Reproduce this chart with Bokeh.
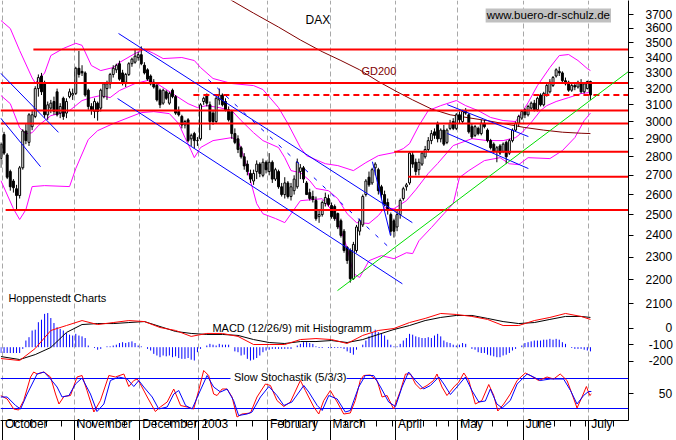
import math
from bokeh.plotting import figure
from bokeh.models import Range1d, LinearScale, FixedTicker, Label, BasicTickFormatter, ColumnDataSource
from bokeh.embed import file_html
from bokeh.resources import INLINE

FONT = "Liberation Sans"

# ---------------- data (x = trading-day index, -1 = 30 Sep 2002, 188 = 1 Jul 2003) ----------------
days = list(range(-1, 189))
opens = [2790,2925,2810,2720,2670,2630,2595,2740,2945,2880,2970,3030,3200,3280,3230,3040,3080,3120,3180,3050,3140,3050,3150,3160,
         3170,3330,3310,3300,3190,3090,3060,3110,3080,3150,3200,3230,3290,3320,3360,3300,3240,3290,3360,3370,3400,
         3420,3350,3320,3280,3240,3220,3190,3110,3180,3110,3190,3150,3060,3030,2980,3010,2900,2930,2890,
         2900,3120,3160,3100,3050,3000,3130,3160,3120,3070,3060,2930,2900,2850,2800,2760,2710,2670,2720,2760,2700,2770,
         2720,2770,2680,2720,2640,2600,2660,2590,2620,2640,2720,2740,2660,2610,2590,2570,2490,2500,2555,2580,
         2545,2540,2505,2470,2420,2345,2330,2205,2330,2420,2450,2600,2690,2660,2740,2730,2640,2600,2560,2500,2470,
         2440,2500,2580,2640,2660,2810,2770,2730,2760,2800,2840,2890,2940,2990,2900,2950,2880,2960,3000,2960,
         3040,3000,3060,3040,2970,2920,2960,2930,2990,2950,2890,2870,2830,2860,2830,2880,2820,2890,2950,2990,3020,
         3070,3040,3080,3110,3070,3160,3100,3160,3180,3220,3280,3310,3300,3250,3240,3190,3220,3210,3230,3180,3200,
         3245]
highs = [2880,2940,2820,2730,2680,2650,2750,2955,2985,3050,3070,3215,3290,3300,3250,3120,3130,3150,3200,3110,3150,3140,3200,3200,
         3340,3445,3350,3310,3200,3110,3140,3120,3200,3240,3250,3300,3350,3360,3380,3320,3300,3370,3400,3460,3440,
         3476,3370,3330,3290,3260,3230,3200,3200,3190,3180,3200,3160,3090,3040,3010,3020,2930,2940,2910,
         3110,3150,3170,3120,3070,3150,3200,3170,3140,3090,3070,2960,2920,2860,2820,2780,2730,2730,2780,2770,2790,2780,
         2820,2780,2740,2730,2660,2690,2670,2660,2700,2790,2760,2750,2670,2630,2620,2590,2520,2570,2610,2600,
         2560,2550,2510,2480,2430,2350,2340,2370,2450,2480,2600,2680,2720,2740,2770,2740,2650,2620,2580,2510,2480,
         2520,2580,2640,2660,2830,2830,2790,2790,2830,2860,2910,2950,2960,3000,2960,2980,2960,3010,3020,3050,
         3060,3070,3080,3050,2990,2980,2970,3010,3010,2960,2900,2880,2860,2870,2880,2890,2900,2960,3000,3040,3070,
         3080,3100,3120,3130,3150,3170,3180,3230,3260,3280,3330,3340,3310,3270,3250,3230,3240,3250,3260,3240,3250,
         3250]
lows = [2740,2810,2680,2620,2610,2525,2580,2730,2870,2860,2950,3020,3150,3160,3020,3010,3050,3040,3030,3020,3010,3020,3140,3130,
        3160,3270,3280,3150,3070,3040,3020,3005,3060,3140,3130,3200,3270,3300,3250,3220,3210,3280,3340,3360,3380,
        3350,3290,3250,3220,3200,3120,3080,3100,3130,3100,3140,3040,3030,2960,2960,2880,2860,2845,2860,
        2890,3100,3090,2950,2980,2990,3100,3090,3060,3000,2900,2870,2820,2790,2730,2700,2660,2650,2680,2690,2690,2710,
        2700,2660,2670,2630,2590,2580,2580,2570,2600,2630,2680,2660,2600,2570,2560,2470,2460,2490,2540,2540,
        2480,2470,2430,2390,2320,2270,2188,2200,2320,2400,2440,2590,2640,2650,2700,2600,2580,2540,2500,2400,2390,
        2420,2480,2570,2620,2650,2740,2700,2700,2750,2790,2830,2870,2900,2880,2880,2860,2870,2950,2950,2950,
        2990,2990,3040,2930,2900,2910,2920,2920,2960,2880,2840,2820,2770,2810,2820,2760,2810,2880,2940,2970,3010,
        3020,3030,3070,3060,3060,3090,3090,3150,3170,3210,3270,3280,3230,3220,3180,3180,3190,3200,3170,3170,3195,
        3130]
closes = [2870,2820,2690,2640,2635,2595,2740,2945,2890,3040,3040,3200,3270,3180,3040,3100,3110,3060,3040,3090,3030,3120,3180,3170,
          3330,3290,3300,3160,3090,3070,3120,3060,3190,3230,3230,3290,3330,3350,3260,3240,3290,3360,3390,3410,3420,
          3360,3300,3260,3230,3210,3130,3100,3190,3140,3170,3150,3050,3040,2980,3000,2890,2920,2890,2890,
          3100,3140,3110,3000,3000,3140,3160,3100,3070,3010,2930,2880,2840,2800,2750,2720,2680,2710,2760,2710,2770,2730,
          2770,2680,2730,2640,2600,2660,2590,2640,2680,2770,2740,2680,2600,2580,2575,2480,2500,2560,2585,2550,
          2490,2480,2440,2400,2330,2285,2205,2358,2440,2470,2590,2670,2650,2730,2760,2620,2600,2550,2520,2420,2420,
          2500,2570,2630,2650,2820,2760,2720,2770,2820,2840,2890,2930,2920,2900,2950,2870,2950,2990,2960,3040,
          3010,3060,3050,2940,2910,2970,2930,2990,2970,2890,2850,2830,2850,2820,2870,2800,2890,2950,2990,3030,3060,
          3040,3090,3110,3070,3140,3100,3170,3220,3240,3270,3320,3300,3250,3230,3190,3220,3210,3240,3180,3230,3245,
          3160]

# Bollinger bands
ub_x = [-1,2,5,9,10,13,15,19,23,25,28,31,35,37,42,45,48,51,57,61,63,67,73,80,83,88,91,95,97,103,107,112,116,120,125,128,130,133,136,140,145,148,152,156,160,164,166,168,171,175,178,181,184,187,188]
ub = [3657,3600,3448,3268,3236,3299,3414,3462,3497,3483,3348,3315,3335,3368,3428,3457,3428,3394,3401,3381,3335,3264,3232,3219,3194,3083,2988,2851,2806,2762,2752,2725,2768,2806,2823,2845,2873,2976,3065,3095,3126,3095,3065,3024,3006,3000,3053,3113,3219,3335,3414,3421,3381,3328,3315]
mb_x = [-1,2,5,7,9,11,15,19,21,25,28,31,34,37,42,46,49,54,59,62,65,69,73,76,80,83,88,90,92,95,98,100,104,107,110,113,117,120,122,125,129,132,136,139,144,150,155,160,164,166,169,172,174,177,181,185,188]
mb = [3157,3107,2964,2929,2935,2976,3035,3053,3065,3126,3144,3157,3144,3188,3232,3251,3232,3169,3107,3083,3095,3083,3065,3006,2935,2890,2851,2795,2725,2714,2672,2631,2620,2579,2504,2461,2457,2495,2534,2529,2569,2625,2710,2763,2862,2901,2890,2890,2907,2935,2994,3065,3095,3120,3144,3169,3176]
lb_x = [-1,3,5,7,9,13,21,23,27,30,35,44,48,53,56,58,60,61,63,67,73,75,77,79,81,83,87,90,95,102,106,108,110,112,114,117,121,125,129,131,133,137,141,144,146,149,154,159,162,165,168,175,179,183,186,188]
lb = [2672,2529,2476,2524,2641,2646,2641,2736,2896,2947,2988,3053,3059,3047,2988,2907,2834,2795,2851,2890,2907,2890,2795,2672,2554,2504,2481,2461,2569,2579,2504,2423,2343,2228,2210,2284,2307,2293,2320,2316,2375,2437,2504,2554,2688,2725,2779,2795,2762,2757,2795,2790,2834,2907,3006,3050]

# 200-day average
gd_x = [55,65,73,80,88,95,102,108,114,120,126,131,137,143,149,155,161,167,173,179,185,188]
gd = [4050,3930,3803,3710,3610,3520,3440,3381,3320,3245,3180,3130,3075,3040,3022,3005,2985,2965,2950,2938,2932,2930]

# horizontal support / resistance levels and the day they start
res_levels = [3455, 3235, 3065, 2988, 2827, 2693, 2523]
res_start = [9.4, -1.14, -1.14, -1.14, 125.1, 129.6, 0.5]
dash_level = [3160]
dash_start = [60.7]

# trend lines (start day, start price, end day, end price)
blue_x0 = [-1.14, -1.14, 36.7, 36.4, 118.1, 142.1, 142.1]
blue_y0 = [3299, 3021, 3565, 3138, 2773, 3101, 2931]
blue_x1 = [17.45, 11.7, 130.9, 127.7, 123.9, 168.1, 168.1]
blue_y1 = [2937, 2746, 2461, 2183, 2399, 2913, 2736]
bdash_x = [65.5, 123.9]
bdash_y = [3257, 2338]
green_x = [106.9, 200.2]
green_y = [2154, 3309]

# MACD (12/26/9)
macd_x = [-1,5,10,15,20,25,30,35,40,45,50,55,60,65,70,75,80,85,90,95,100,105,110,115,120,125,130,135,140,145,150,155,160,165,170,175,180,185,188]
macd = [-182,-194,-121,-12,18,48,24,36,48,42,6,-12,-48,-30,-30,-48,-97,-97,-97,-67,-61,-67,-91,-42,-12,0,36,61,91,85,73,55,18,18,48,67,91,73,55]
signal = [-170,-188,-158,-115,-24,24,30,30,36,42,12,-18,-30,-36,-36,-42,-67,-85,-91,-79,-79,-73,-85,-67,-36,-6,18,48,67,79,79,61,42,30,36,55,73,73,67]
hist = [-7,-7,-7,-7,-7,-7,-7,-2,8,12,20,21,30,33,40,41,35,29,24,22,20,17,15,14,16,14,13,11,2,0,-1,-3,-2,0,1,1,2,3,5,6,5,6,7,5,2,
        1,0,-2,-4,-8,-10,-12,-10,-11,-10,-12,-11,-13,-14,-14,-13,-15,-16,-6,
        -2,0,2,4,3,2,4,3,3,3,0,-5,-6,-10,-9,-14,-16,-15,-13,-10,-6,-4,
        -3,-2,-2,-2,-2,-2,-2,-2,0,2,4,6,6,5,4,1,-1,-1,0,-1,
        -1,-1,-1,-1,-2,-5,-7,-9,-3,0,3,8,13,18,21,18,17,14,9,3,1,
        1,4,8,11,16,15,13,12,11,11,12,11,14,16,13,8,6,5,3,2,
        3,5,4,0,-2,-3,-6,-7,-7,-9,-10,-11,-12,-12,-10,-9,-7,-4,-2,0,2,
        5,6,7,8,8,8,9,9,10,9,10,9,6,4,0,-1,-2,-2,-2,-3,-4,
        -5]

# Slow stochastic (5/3/3)
k_x = [-1.1,1.0,3.1,4.7,6.3,8.5,9.5,10.6,12.8,14.9,16.5,17.6,19.2,21.3,23.4,25.0,26.6,28.8,30.9,33.6,35.7,38.4,40.0,41.6,42.7,43.7,45.9,48.5,50.1,52.3,54.4,56.6,58.7,60.8,62.4,64.0,65.6,67.2,68.3,69.9,71.5,73.1,74.7,76.3,79.0,81.1,83.8,85.4,87.5,89.7,91.8,95.0,96.6,99.3,100.9,102.5,104.6,106.8,108.9,111.0,112.6,114.2,115.3,117.4,119.6,121.2,122.8,124.9,127.1,128.7,130.3,131.9,133.5,135.6,137.7,138.8,140.4,142.0,144.2,145.8,147.4,149.0,151.1,153.2,155.4,157.0,158.3,160.2,162.3,164.5,167.1,168.7,171.4,174.1,176.2,178.3,180.5,182.1,183.7,185.3,186.7,187.8,188.3]
k = [46,39,19,17,36,83,93,89,93,83,49,29,44,46,83,86,56,13,36,86,83,89,64,76,79,69,43,14,23,33,59,26,23,19,56,96,86,49,46,59,59,43,3,9,11,43,69,66,36,24,33,76,56,23,9,36,56,33,9,11,36,76,86,87,76,43,46,19,56,89,89,69,59,66,76,89,63,46,63,73,91,76,29,36,68,46,15,29,49,76,91,86,76,83,79,89,76,49,21,43,64,46,49]
d_x = [-1.1,1.0,3.7,5.3,7.4,10.6,12.8,14.9,17.0,18.6,20.8,22.9,25.0,27.7,29.8,32.0,34.1,36.8,39.5,41.6,43.2,44.8,47.5,49.6,52.3,54.4,56.0,58.2,60.3,62.4,65.1,67.2,69.4,71.5,73.6,75.2,77.9,79.5,82.2,84.9,87.5,89.7,92.3,96.1,97.7,100.4,102.0,104.1,106.8,109.4,111.0,113.7,115.8,118.5,120.7,123.3,125.5,127.6,129.7,131.9,134.5,136.7,139.4,141.0,143.1,145.2,147.9,150.0,152.2,154.3,155.9,158.0,159.7,162.3,164.5,167.7,169.8,171.9,175.1,179.4,181.6,183.7,185.8,187.4,188.3]
d = [43,43,26,19,49,89,93,79,63,43,46,69,81,49,14,29,76,83,79,64,76,63,43,19,23,49,56,26,19,49,86,63,53,59,36,6,9,13,43,64,46,26,33,66,53,26,16,46,39,13,16,63,86,86,63,33,24,63,93,76,59,66,83,69,48,63,83,56,33,35,59,29,21,36,69,89,83,76,79,79,56,29,46,54,54]
stoch_levels = [80, 80, 20]
stoch_lx0 = [-1.14, 109.8, -1.14]
stoch_lx1 = [72.6, 200.2, 200.2]

# axis
month_names = ["October", "November", "December", "2003", "February", "March", "April", "May", "June", "July"]
month_start = [0, 23, 44, 63, 85, 105, 126, 146, 167, 188]
week_start = [4, 9, 14, 19, 24, 29, 34, 39, 49, 54, 59, 62, 65, 70, 75, 80, 90, 95, 100, 110, 115, 120, 125,
              130, 135, 139, 143, 147, 152, 157, 162, 172, 177, 182, 187, 191, 196]
price_ticks = [2100, 2200, 2300, 2400, 2500, 2600, 2700, 2800, 2900, 3000, 3100, 3200, 3300, 3400, 3500, 3600, 3700]
macd_ticks = [0, -100, -200]
macd_tick_text = ["\u2007\u2007\u20070", "\u2008-100", "\u2008-200"]
stoch_ticks = [50]
stoch_tick_text = ["\u2007\u200750"]

# ---------------- figure ----------------
X0, X1 = -1.14, 200.2
P_LO, P_HI = 1670.0, 3803.0
MACD_LO, MACD_HI = -557.6, 1987.9
ST_LO, ST_HI = -4.0, 836.0

p = figure(width=676, height=440, x_range=Range1d(X0, X1), y_range=Range1d(P_LO, P_HI),
           y_axis_type="log", y_axis_location="right", output_backend="svg", toolbar_location=None,
           min_border_left=0, min_border_top=0, min_border_right=48, min_border_bottom=20)
p.outline_line_color = None
p.background_fill_color = "white"
p.border_fill_color = "white"
p.extra_y_ranges = {"macd": Range1d(MACD_LO, MACD_HI), "hist": Range1d(-88.0, 416.2), "stoch": Range1d(ST_LO, ST_HI)}
p.extra_y_scales = {"macd": LinearScale(), "hist": LinearScale(), "stoch": LinearScale()}


def price_at(frac):
    # price value sitting at a given fraction (0 = bottom, 1 = top) of the log price axis
    return math.exp(math.log(P_LO) + frac * (math.log(P_HI) - math.log(P_LO)))


extra_ticks, extra_text = [], {}
for v, t in zip(macd_ticks, macd_tick_text):
    pv = price_at((v - MACD_LO) / (MACD_HI - MACD_LO))
    extra_ticks.append(pv)
    extra_text[pv] = t
for v, t in zip(stoch_ticks, stoch_tick_text):
    pv = price_at((v - ST_LO) / (ST_HI - ST_LO))
    extra_ticks.append(pv)
    extra_text[pv] = t

bounds = [m - 0.5 for m in month_start]
weeks = [w - 0.5 for w in week_start]

xa = p.xaxis[0]
xa.ticker = FixedTicker(ticks=bounds, minor_ticks=weeks)
xa.major_label_overrides = {b: "\u2009" + n for b, n in zip(bounds, month_names)}
xa.major_label_orientation = -0.0001
xa.major_label_text_font = FONT
xa.major_label_text_font_size = "12px"
xa.major_label_text_color = "black"
xa.major_label_standoff = -17
xa.major_tick_out = 20
xa.major_tick_in = 0
xa.minor_tick_out = 6
xa.minor_tick_in = 0
xa.axis_line_color = "black"

ya = p.yaxis[0]
ya.ticker = FixedTicker(ticks=price_ticks + extra_ticks, minor_ticks=[])
ya.formatter = BasicTickFormatter(use_scientific=False)
ya.major_label_overrides = extra_text
ya.major_tick_out = 5
ya.major_tick_in = 0
ya.major_label_standoff = 12
ya.major_label_text_font = FONT
ya.major_label_text_font_size = "12px"
ya.major_label_text_color = "black"
ya.axis_line_color = "black"

p.xgrid.ticker = FixedTicker(ticks=bounds)
p.xgrid.grid_line_color = "#a8a8a8"
p.xgrid.grid_line_dash = "5 3"
p.ygrid.grid_line_color = None

# bands and average
p.line(ub_x, ub, line_color="#ff00ff", line_width=1)
p.line(mb_x, mb, line_color="#ff00ff", line_width=1)
p.line(lb_x, lb, line_color="#ff00ff", line_width=1)
p.line(gd_x, gd, line_color="#800000", line_width=1)

# candles
src = ColumnDataSource(dict(
    x=days, o=opens, h=highs, l=lows, c=closes,
    top=[max(a, b) for a, b in zip(opens, closes)],
    bot=[min(a, b) for a, b in zip(opens, closes)],
    col=["white" if c >= o else "black" for o, c in zip(opens, closes)]))
p.segment(x0="x", y0="l", x1="x", y1="h", source=src, line_color="black", line_width=1)
p.vbar(x="x", width=0.62, top="top", bottom="bot", source=src, fill_color="col", line_color="black", line_width=1)

# level lines
p.segment(x0=res_start, y0=res_levels, x1=[X1] * len(res_levels), y1=res_levels, line_color="#ff0000", line_width=2)
p.segment(x0=dash_start, y0=dash_level, x1=[X1], y1=dash_level, line_color="#ff0000", line_width=2, line_dash="6 4")
p.segment(x0=blue_x0, y0=blue_y0, x1=blue_x1, y1=blue_y1, line_color="#0000ff", line_width=1)
p.line(bdash_x, bdash_y, line_color="#0000ff", line_width=1, line_dash="4 8")
p.line(green_x, green_y, line_color="#00dd00", line_width=1)

# MACD pane
p.segment(x0=days, y0=0, x1=days, y1=hist, y_range_name="hist", line_color="#0000ff", line_width=1)
p.line(macd_x, signal, y_range_name="macd", line_color="black", line_width=1)
p.line(macd_x, macd, y_range_name="macd", line_color="#ff0000", line_width=1)

# stochastic pane
p.segment(x0=stoch_lx0, y0=stoch_levels, x1=stoch_lx1, y1=stoch_levels, y_range_name="stoch",
          line_color="#0000ff", line_width=1)
p.line(k_x, k, y_range_name="stoch", line_color="#ff0000", line_width=1)
p.line(d_x, d, y_range_name="stoch", line_color="#0000ff", line_width=1)


# texts inside the chart area
def lab(x, y, text, rng="default", size="11px", color="black", baseline="alphabetic", **kw):
    p.add_layout(Label(x=x, y=y, y_range_name=rng, text=text, text_font=FONT, text_font_size=size,
                       text_color=color, text_align="left", text_baseline=baseline, **kw))


lab(96.65, 3657, "DAX", size="12px")
lab(154.4, 3693, "www.buero-dr-schulz.de", size="11.5px", baseline="middle",
    background_fill_color="#c0c0c0", padding=1)
lab(114.6, 3315, "GD200", color="#800000")
lab(1.4, 242, "Hoppenstedt Charts", rng="stoch")
lab(66.8, 182, "MACD (12/26/9) mit Histogramm", rng="stoch")
lab(73.7, 84, "Slow Stochastik (5/3/3)", rng="stoch")

open("out.html", "w").write(file_html(p, INLINE))
